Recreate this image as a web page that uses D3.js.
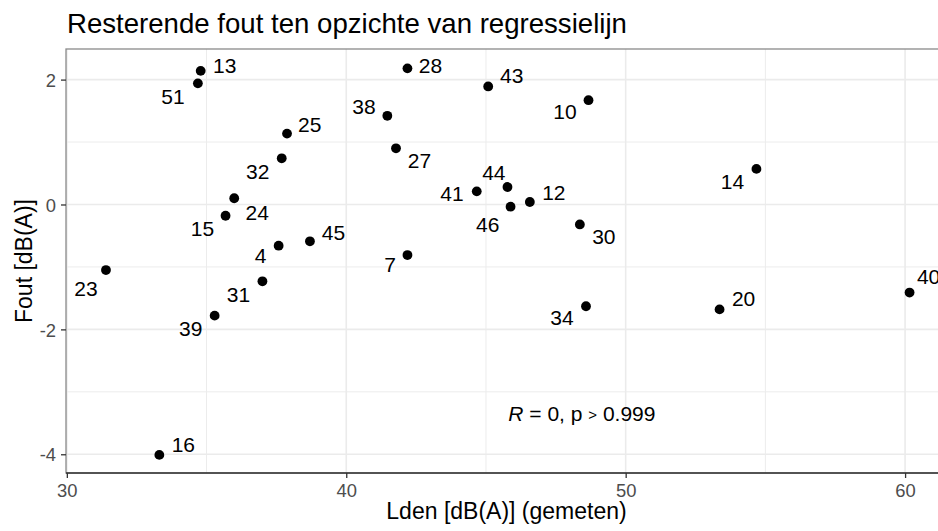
<!DOCTYPE html>
<html>
<head>
<meta charset="utf-8">
<script src="https://cdn.jsdelivr.net/npm/d3@7"></script>
<style>
  html, body { margin: 0; padding: 0; background: #fff; overflow: hidden; }
  svg { display: block; font-family: "Liberation Sans", Arial, sans-serif; }
</style>
</head>
<body>
<div id="chart"></div>
<script>
// meetpunten: id, gemeten Lden en resterende fout
var pointIds = ["13", "51", "25", "32", "24", "15", "4", "45", "23", "31", "39", "16",
  "28", "43", "10", "38", "27", "41", "44", "12", "46", "30", "7", "14", "20", "40", "34"];
var ldenValues = [34.79, 34.69, 37.88, 37.69, 35.99, 35.68, 37.58, 38.70, 31.40, 37.00, 35.29, 33.31,
  42.19, 45.08, 48.67, 41.47, 41.78, 44.67, 45.77, 46.57, 45.88, 48.36, 42.19, 54.68, 53.36, 60.16, 48.58];
var foutValues = [2.14, 1.94, 1.135, 0.74, 0.10, -0.18, -0.66, -0.59, -1.05, -1.23, -1.78, -4.01,
  2.18, 1.89, 1.67, 1.42, 0.90, 0.21, 0.28, 0.04, -0.035, -0.32, -0.81, 0.57, -1.68, -1.41, -1.63];

var xTicks = [30, 40, 50, 60];
var yTicks = [-4, -2, 0, 2];
var xMinor = [35, 45, 55];
var yMinor = [-3, -1, 1];

var titleText = "Resterende fout ten opzichte van regressielijn";
var xTitle = "Lden [dB(A)] (gemeten)";
var yTitle = "Fout [dB(A)]";

// label offsets (px) from the repel layout in the original
var labelOffsets = [[24, -5], [-25, 12.6], [22.7, -9.4], [-24, 13], [23, 14], [-23, 13], [-18, 10],
  [23.5, -9], [-20, 18], [-24, 13], [-24, 13], [24, -10], [23, -2.6], [23.5, -10.7], [-23.6, 11.7],
  [-23.4, -9.3], [23.5, 12.4], [-24.7, 1.6], [-13.6, -15], [24, -9.7], [-22.8, 17.6], [24, 12.4],
  [-17.3, 9], [-24, 13], [24, -10.6], [19, -15.6], [-24, 11]];

var points = pointIds.map((id, i) => ({ id: id, x: ldenValues[i], y: foutValues[i], off: labelOffsets[i] }));

var W = 938, H = 531;
var panel = { left: 66, right: 947, top: 49, bottom: 473 };

var svg = d3.select('#chart').append('svg')
  .attr('width', W).attr('height', H);

var xScale = d3.scaleLinear().domain([29.97, 61.5]).range([panel.left, panel.right]);
var yScale = d3.scaleLinear().domain([-4.3, 2.49]).range([panel.bottom, panel.top]);

// grid
var grid = svg.append('g');
grid.selectAll('.xminor').data(xMinor).enter().append('line')
  .attr('x1', d => xScale(d)).attr('x2', d => xScale(d))
  .attr('y1', panel.top).attr('y2', panel.bottom)
  .attr('stroke', '#ececec').attr('stroke-width', 1);
grid.selectAll('.yminor').data(yMinor).enter().append('line')
  .attr('x1', panel.left).attr('x2', panel.right)
  .attr('y1', d => yScale(d)).attr('y2', d => yScale(d))
  .attr('stroke', '#ececec').attr('stroke-width', 1);
grid.selectAll('.xmajor').data(xTicks).enter().append('line')
  .attr('x1', d => xScale(d)).attr('x2', d => xScale(d))
  .attr('y1', panel.top).attr('y2', panel.bottom)
  .attr('stroke', '#ebebeb').attr('stroke-width', 1.6);
grid.selectAll('.ymajor').data(yTicks).enter().append('line')
  .attr('x1', panel.left).attr('x2', panel.right)
  .attr('y1', d => yScale(d)).attr('y2', d => yScale(d))
  .attr('stroke', '#ebebeb').attr('stroke-width', 1.6);

// panel border
svg.append('rect')
  .attr('x', panel.left).attr('y', panel.top)
  .attr('width', panel.right - panel.left).attr('height', panel.bottom - panel.top)
  .attr('fill', 'none').attr('stroke', '#8a8a8a').attr('stroke-width', 1.3);

// axes (plain hyphen minus like R output)
var fmt = d => String(d);
var xAxis = svg.append('g')
  .attr('transform', 'translate(0,' + panel.bottom + ')')
  .call(d3.axisBottom(xScale).tickValues(xTicks).tickFormat(fmt).tickSize(5).tickSizeOuter(0).tickPadding(5));
var yAxis = svg.append('g')
  .attr('transform', 'translate(' + panel.left + ',0)')
  .call(d3.axisLeft(yScale).tickValues(yTicks).tickFormat(fmt).tickSize(5).tickSizeOuter(0).tickPadding(5));

[xAxis, yAxis].forEach(a => {
  a.select('.domain').remove();
  a.selectAll('.tick line').attr('stroke', '#333').attr('stroke-width', 1.3);
  a.selectAll('.tick text').attr('fill', '#4d4d4d')
    .style('font-size', '18.4px').style('font-family', '"Liberation Sans", Arial, sans-serif');
});
yAxis.selectAll('.tick text').attr('x', -10).attr('dy', '0.36em');
xAxis.selectAll('.tick text').attr('y', 10).attr('dy', '0.76em');

svg.append('line')
  .attr('x1', panel.left).attr('x2', panel.right)
  .attr('y1', panel.bottom).attr('y2', panel.bottom)
  .attr('stroke', '#333').attr('stroke-width', 1.3);

// titles
svg.append('text')
  .attr('x', 67).attr('y', 33)
  .style('font-size', '27.6px').attr('fill', '#000')
  .text(titleText);

svg.append('text')
  .attr('x', (panel.left + panel.right) / 2).attr('y', 519)
  .attr('text-anchor', 'middle')
  .style('font-size', '23px').attr('fill', '#000')
  .text(xTitle);

svg.append('text')
  .attr('transform', 'translate(31.5,' + (panel.top + panel.bottom) / 2 + ') rotate(-90)')
  .attr('text-anchor', 'middle')
  .style('font-size', '23px').attr('fill', '#000')
  .text(yTitle);

// points
svg.append('g').selectAll('circle')
  .data(points).enter().append('circle')
  .attr('cx', d => xScale(d.x))
  .attr('cy', d => yScale(d.y))
  .attr('r', 4.9)
  .attr('fill', '#000');

// labels
svg.append('g').selectAll('text')
  .data(points).enter().append('text')
  .attr('x', d => xScale(d.x) + d.off[0])
  .attr('y', d => yScale(d.y) + d.off[1])
  .attr('dy', '0.36em')
  .attr('text-anchor', 'middle')
  .style('font-size', '21px').attr('fill', '#000')
  .text(d => d.id);

// correlation annotation
var corX = 45.8, corY = -3.46;
var cor = svg.append('text')
  .attr('x', xScale(corX)).attr('y', yScale(corY))
  .style('font-size', '21px').attr('fill', '#000');
cor.append('tspan').style('font-style', 'italic').text('R');
cor.append('tspan').text(' = 0, p ');
cor.append('tspan').style('font-size', '15px').attr('dy', -1).text('>');
cor.append('tspan').attr('dy', 1).text(' 0.999');
</script>
</body>
</html>
